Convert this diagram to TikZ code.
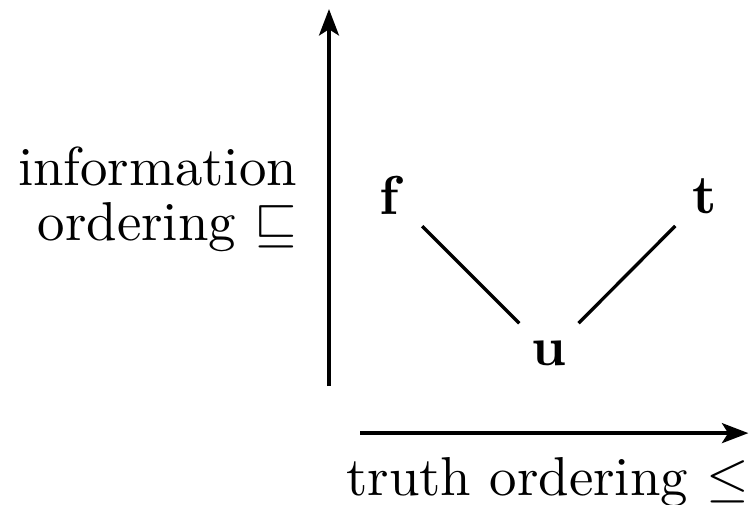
\documentclass[tikz,border=0pt]{standalone}
\usepackage{amsmath,amssymb}
\usepackage{tikz}
\usetikzlibrary{arrows.meta, positioning}

\begin{document}
\begin{tikzpicture}[
  val/.style={inner sep=3pt},
  axis/.style={-{Stealth[length=4.8pt, width=3.6pt, inset=1.1pt]}, thick},
  edge/.style={semithick}
]
  \useasboundingbox (0,0) rectangle (4.81,3.233);

  \node[val] (f) at (2.514,1.976) {$\mathbf{f}$};
  \node[val] (t) at (4.522,1.976) {$\mathbf{t}$};
  \node[val] (u) at (3.521,0.969) {$\mathbf{u}$};

  \draw[edge] (f) -- (u);
  \draw[edge] (t) -- (u);

  \coordinate (ibot) at (2.110,0.757);
  \coordinate (itop) at (2.110,3.175);
  \draw[axis] (ibot) -- (itop);

  \coordinate (tleft) at (2.309,0.455);
  \coordinate (tright) at (4.800,0.455);
  \draw[axis] (tleft) -- (tright);

  \node[anchor=east, align=right, inner sep=0pt] (info) at (1.911,1.955)
    {information\\[-2pt] ordering $\sqsubseteq$};
  \node[inner sep=0pt] (truth) at (3.512,0.141) {truth ordering $\leq$};
\end{tikzpicture}
\end{document}
